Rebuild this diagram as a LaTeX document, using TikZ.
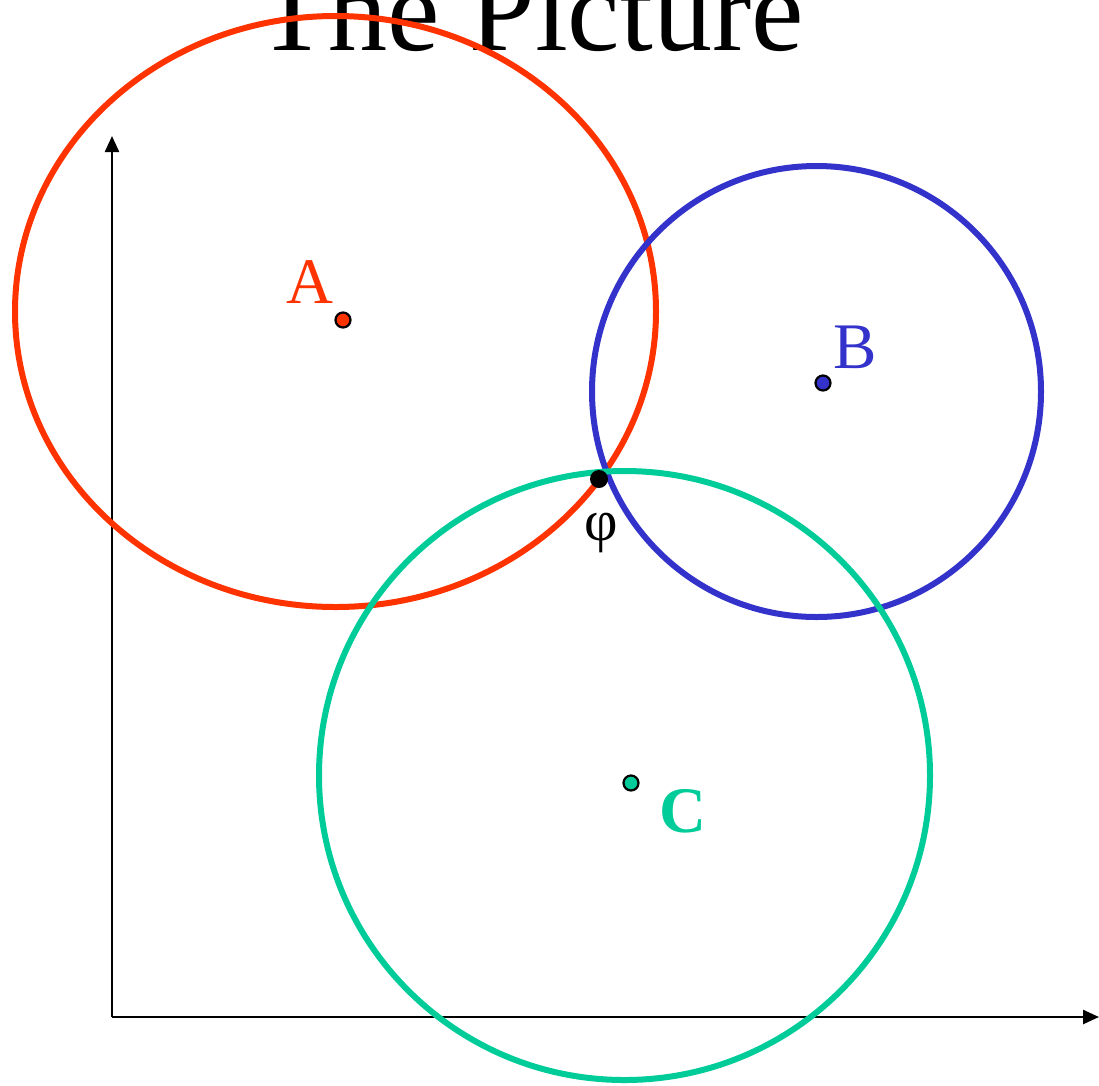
\documentclass[tikz,border=0pt]{standalone}
\usepackage{fontspec}
\setmainfont{Liberation Serif}
\usetikzlibrary{arrows.meta}
\definecolor{cred}{HTML}{FF3300}
\definecolor{cblue}{HTML}{3333CC}
\definecolor{cgreen}{HTML}{00CC99}
\tikzset{
  ring/.style={line width=6pt},
  axis/.style={line width=2.4pt,-{Triangle[length=16pt,width=14pt]}},
  dot/.style={circle,draw=black,line width=2.2pt,inner sep=0pt,minimum size=15pt},
  lbl/.style={anchor=base,inner sep=0pt,font=\fontsize{65}{70}\selectfont},
}
\begin{document}
\begin{tikzpicture}[x=1pt,y=-1pt]
\useasboundingbox (0,0) rectangle (1099,1085);
% axes
\coordinate (O) at (112,1017);
\coordinate (ytip) at (112,136);
\coordinate (xtip) at (1099,1017);
\draw[axis] (O) -- (ytip);
\draw[axis] (O) -- (xtip);
% title
\node[anchor=base,inner sep=0pt,font=\fontsize{118}{124}\selectfont] (title) at (530,50) {The Picture};
% rings
\draw[ring,cred] (335.5,311.5) ellipse [x radius=320.5pt, y radius=295.5pt];
\draw[ring,cblue] (816.5,391.5) ellipse [x radius=224.5pt, y radius=225.5pt];
\draw[ring,cgreen] (624.5,775.5) ellipse [x radius=305.5pt, y radius=304.5pt];
% points
\node[dot,fill=cred] (A) at (343,320) {};
\node[dot,fill=cblue] (B) at (823,383) {};
\node[dot,fill=cgreen] (C) at (631,783) {};
\node[circle,fill=black,inner sep=0pt,minimum size=18pt] (phi) at (599,479) {};
% labels
\node[lbl,text=cred] (Alabel) at (310,303) {A};
\node[lbl,text=cblue] (Blabel) at (855,368) {B};
\node[lbl,text=cgreen,font=\fontsize{65}{70}\selectfont\bfseries] (Clabel) at (683,832) {C};
\node[inner sep=0pt,font=\fontsize{58}{62}\selectfont] (philabel) at (601,533) {φ};
\end{tikzpicture}
\end{document}
